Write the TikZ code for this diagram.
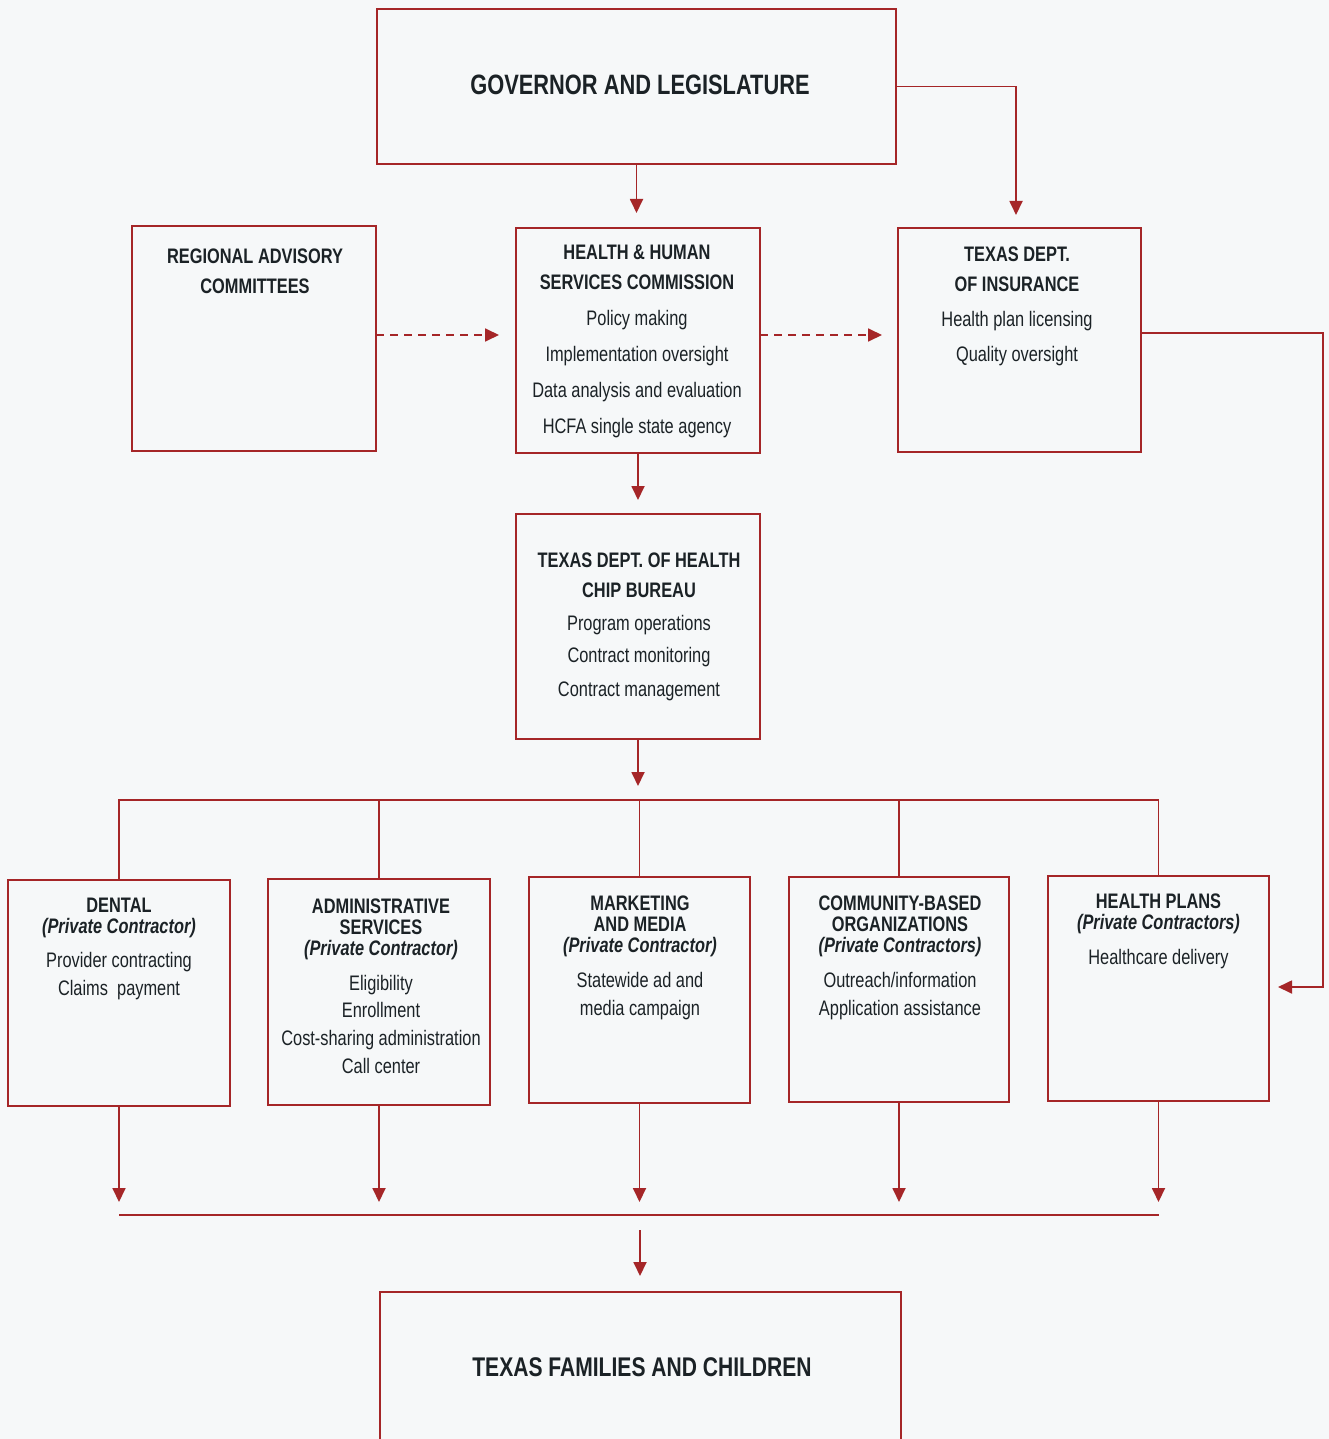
\documentclass[tikz,border=0pt]{standalone}
\usepackage{fontspec}
\setmainfont{Liberation Sans}[FakeStretch=0.78]
\usetikzlibrary{arrows.meta,calc}
\definecolor{cred}{RGB}{165,38,40}
\definecolor{bgc}{RGB}{246,248,249}
\definecolor{ink}{RGB}{27,34,38}
\begin{document}
\begin{tikzpicture}[x=1pt,y=-1pt,
  box/.style={draw=cred,line width=1.8pt,rectangle,inner sep=0pt,outer sep=0pt},
  conn/.style={draw=cred,line width=1.8pt},
  arr/.style={conn,-{Triangle[length=14pt,width=13pt]}},
  darr/.style={arr,dash pattern=on 8pt off 6pt},
  txt/.style={text=ink,align=center,inner sep=0pt,anchor=north},
  big/.style={text=ink,font=\fontsize{28}{34}\selectfont\bfseries,inner sep=0pt},
  mid/.style={txt,font=\fontsize{21}{30}\selectfont},
  small/.style={txt,font=\fontsize{21}{21}\selectfont}]
\useasboundingbox (0,0) rectangle (1329,1439);
\fill[bgc] (0,0) rectangle (1329,1439);
\clip (0,0) rectangle (1329,1439);

% boxes
\node[box,minimum width=519pt,minimum height=155pt] (gov) at (636.5,86.5) {};
\node[box,minimum width=244pt,minimum height=225pt] (rac) at (254,338.5) {};
\node[box,minimum width=244pt,minimum height=225pt] (hhsc) at (638,340.5) {};
\node[box,minimum width=243pt,minimum height=224pt] (tdi) at (1019.5,340) {};
\node[box,minimum width=244pt,minimum height=225pt] (tdh) at (638,626.5) {};
\node[box,minimum width=222pt,minimum height=226pt] (dental) at (119,993) {};
\node[box,minimum width=222pt,minimum height=226pt] (admin) at (379,992) {};
\node[box,minimum width=221pt,minimum height=226pt] (mkt) at (639.5,990) {};
\node[box,minimum width=220pt,minimum height=225pt] (cbo) at (899,989.5) {};
\node[box,minimum width=221pt,minimum height=225pt] (hp) at (1158.5,988.5) {};
\node[box,minimum width=521pt,minimum height=168pt] (fam) at (640.5,1376) {};

% texts
\node[big] (govt) at (640,85) {GOVERNOR AND LEGISLATURE};
\node[big,font=\fontsize{27}{34}\selectfont\bfseries] (famt) at (642,1367) {TEXAS FAMILIES AND CHILDREN};
\node[mid] (ract) at (255,248.5) {\textbf{REGIONAL ADVISORY}\\\textbf{COMMITTEES}};
\node[mid] (hhsct) at (637,244.5) {\textbf{HEALTH \& HUMAN}\\\textbf{SERVICES COMMISSION}\\[6pt]Policy making\\[6pt]Implementation oversight\\[6pt]Data analysis and evaluation\\[6pt]HCFA single state agency};
\node[mid] (tdit) at (1017,246.5) {\textbf{TEXAS DEPT.}\\\textbf{OF INSURANCE}\\[5pt]Health plan licensing\\[5pt]Quality oversight};
\node[mid] (tdht) at (639,552.5) {\textbf{TEXAS DEPT. OF HEALTH}\\\textbf{CHIP BUREAU}\\[3pt]Program operations\\[2pt]Contract monitoring\\[4pt]Contract management};
\node[small] (dentalt) at (119,897.5) {\textbf{DENTAL}\\\textbf{\textit{(Private Contractor)}}\\[13pt]Provider contracting\\[7pt]Claims\ \ payment};
\node[small] (admint) at (381,898.5) {\textbf{ADMINISTRATIVE}\\\textbf{SERVICES}\\\textbf{\textit{(Private Contractor)}}\\[14pt]Eligibility\\[6pt]Enrollment\\[7pt]Cost-sharing administration\\[7pt]Call center};
\node[small] (mktt) at (640,895.5) {\textbf{MARKETING}\\\textbf{AND MEDIA}\\\textbf{\textit{(Private Contractor)}}\\[14pt]Statewide ad and\\[7pt]media campaign};
\node[small] (cbot) at (900,895.5) {\textbf{COMMUNITY-BASED}\\\textbf{ORGANIZATIONS}\\\textbf{\textit{(Private Contractors)}}\\[14pt]Outreach/information\\[7pt]Application assistance};
\node[small] (hpt) at (1158.5,893.5) {\textbf{HEALTH PLANS}\\\textbf{\textit{(Private Contractors)}}\\[14pt]Healthcare delivery};

% helper coordinates
\coordinate (dy) at (0,335);
\coordinate (g2) at (1016,0);
\coordinate (r1) at (1323,333);
\coordinate (r2) at (1323,987);
\coordinate (bus) at (0,800);
\coordinate (low) at (0,1202);
\coordinate (bb) at (0,1215);
\coordinate (fa) at (640,1230);

% connectors
\draw[arr,shorten >=15pt] (gov.south) -- (gov.south |- hhsc.north);
\draw[arr,shorten >=13pt] (gov.east) -| (g2 |- tdi.north);
\draw[darr,shorten >=17pt] (rac.east |- dy) -- (hhsc.west |- dy);
\draw[darr,shorten >=16pt] (hhsc.east |- dy) -- (tdi.west |- dy);
\draw[arr,shorten >=9pt] (tdi.east |- r1) -- (r1) -- (r2) -- (hp.east |- r2);
\draw[arr,shorten >=14pt] (hhsc.south) -- (tdh.north);
\draw[arr,shorten >=14pt] (tdh.south) -- (tdh.south |- bus);
\draw[conn] (dental.north) -- (dental.north |- bus) -- (hp.north |- bus) -- (hp.north);
\draw[conn] (admin.north) -- (admin.north |- bus);
\draw[conn] (mkt.north) -- (mkt.north |- bus);
\draw[conn] (cbo.north) -- (cbo.north |- bus);
\draw[arr] (dental.south) -- (dental.south |- low);
\draw[arr] (admin.south) -- (admin.south |- low);
\draw[arr] (mkt.south) -- (mkt.south |- low);
\draw[arr] (cbo.south) -- (cbo.south |- low);
\draw[arr] (hp.south) -- (hp.south |- low);
\draw[conn] (dental.south |- bb) -- (hp.south |- bb);
\draw[arr,shorten >=16pt] (fa) -- (fa |- fam.north);
\end{tikzpicture}
\end{document}
